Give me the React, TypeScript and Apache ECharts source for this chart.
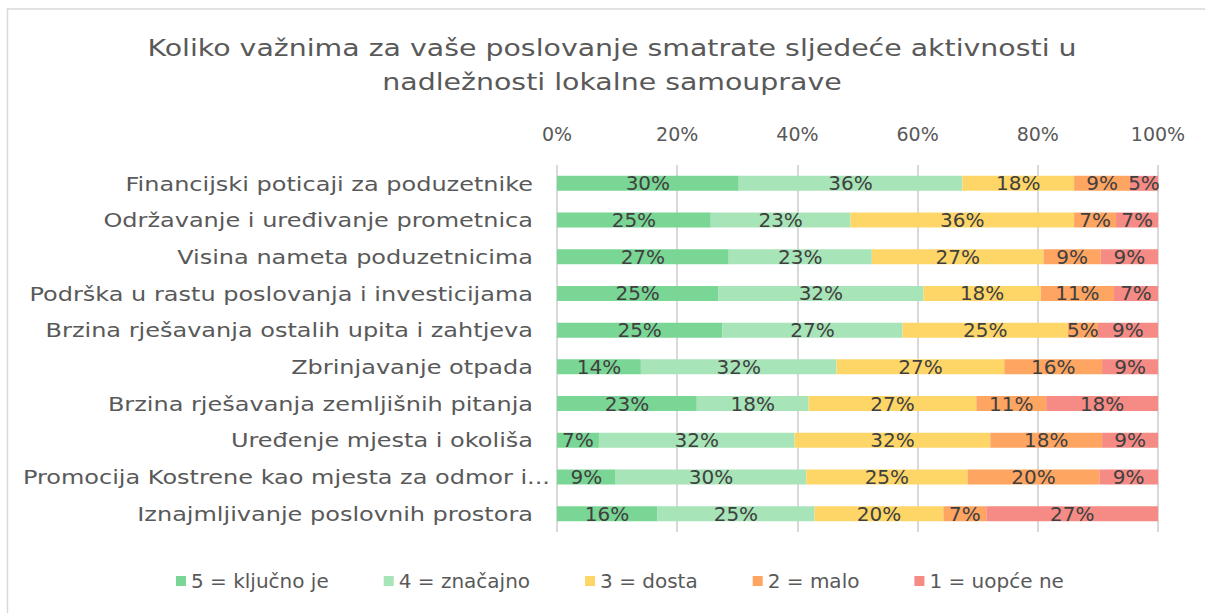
import React, { useEffect, useRef } from "react";
import * as echarts from "echarts";

const categories = [
  "Financijski poticaji za poduzetnike",
  "Održavanje i uređivanje prometnica",
  "Visina nameta poduzetnicima",
  "Podrška u rastu poslovanja i investicijama",
  "Brzina rješavanja ostalih upita i zahtjeva",
  "Zbrinjavanje otpada",
  "Brzina rješavanja zemljišnih pitanja",
  "Uređenje mjesta i okoliša",
  "Promocija Kostrene kao mjesta za odmor i...",
  "Iznajmljivanje poslovnih prostora",
];

const seriesNames = ["5 = ključno je", "4 = značajno", "3 = dosta", "2 = malo", "1 = uopće ne"];
const colors = ["#7AD695", "#A7E4B8", "#FED668", "#FFA562", "#F58B84"];

// shares (%) per category, as labelled (rounded in the labels)
const s5 = [29.55, 25.0, 27.27, 25.0, 25.0, 13.64, 22.73, 6.82, 9.09, 15.91];
const s4 = [36.36, 22.73, 22.73, 31.82, 27.27, 31.82, 18.18, 31.82, 29.55, 25.0];
const s3 = [18.18, 36.36, 27.27, 18.18, 25.0, 27.27, 27.27, 31.82, 25.0, 20.45];
const s2 = [9.09, 6.82, 9.09, 11.36, 4.55, 15.91, 11.36, 18.18, 20.45, 6.82];
const s1 = [4.55, 6.82, 9.09, 6.82, 9.09, 9.09, 18.18, 9.09, 9.09, 27.27];

const titleText = "Koliko važnima za vaše poslovanje smatrate sljedeće aktivnosti u\nnadležnosti lokalne samouprave";

const FONT = "'DejaVu Sans', sans-serif";

export default function App() {
  const ref = useRef<HTMLDivElement>(null);
  useEffect(() => {
    if (!ref.current) return;
    const chart = echarts.init(ref.current, undefined, { renderer: "svg" });
    const all = [s5, s4, s3, s2, s1];
    const sums = categories.map((_, i) => all.reduce((a, s) => a + s[i], 0));
    const series: any[] = all.map((arr, k) => ({
      name: seriesNames[k],
      type: "bar",
      stack: "total",
      barWidth: 15,
      itemStyle: { color: colors[k] },
      label: {
        show: true,
        position: "inside",
        color: "#404040",
        fontSize: 20,
        fontFamily: FONT,
        formatter: (p: any) => Math.round(arr[p.dataIndex]) + "%",
      },
      data: arr.map((v, i) => (v / sums[i]) * 100),
    }));
    series.push({
      type: "custom",
      name: "categoryLabels",
      silent: true,
      clip: false,
      z: 10,
      encode: { x: 0, y: 1 },
      data: categories.map((_, i) => [0, i]),
      renderItem: (params: any, api: any) => {
        const pt = api.coord([0, api.value(1)]);
        const name = categories[params.dataIndex];
        const shift = name.endsWith("...") ? 17 : 0;
        return {
          type: "text",
          x: pt[0] - 24 + shift,
          y: pt[1],
          scaleX: 1.2,
          style: {
            text: name,
            align: "right",
            verticalAlign: "middle",
            fill: "#595959",
            fontSize: 20,
            fontFamily: FONT,
          },
        };
      },
    });
    chart.setOption({
      animation: false,
      textStyle: { fontFamily: FONT },
      legend: {
        bottom: 17,
        left: 171,
        itemWidth: 10,
        itemHeight: 10,
        itemGap: 55,
        icon: "rect",
        textStyle: { fontSize: 20, color: "#595959", padding: [0, 0, 0, 0] },
        data: seriesNames,
      },
      grid: { left: 557, right: 47, top: 165, height: 367, containLabel: false },
      xAxis: {
        type: "value",
        position: "top",
        min: 0,
        max: 100,
        interval: 20,
        axisLine: { show: false },
        axisTick: { show: false },
        splitLine: { lineStyle: { color: "#D9D9D9", width: 2 } },
        axisLabel: { color: "#595959", fontSize: 19, margin: 22, formatter: (v: number) => v + "%" },
      },
      yAxis: {
        type: "category",
        inverse: true,
        data: categories,
        axisLine: { show: false },
        axisTick: { show: false },
        axisLabel: { show: false },
      },
      graphic: [
        {
          type: "rect",
          shape: { x: 7.5, y: 9, width: 1400, height: 800 },
          style: { fill: "none", stroke: "#D9D9D9", lineWidth: 1.5 },
          silent: true,
        },
        {
          type: "text",
          x: 612,
          y: 65,
          scaleX: 1.235,
          silent: true,
          style: {
            text: titleText,
            align: "center",
            verticalAlign: "middle",
            fill: "#595959",
            fontSize: 23,
            lineHeight: 34,
            fontFamily: FONT,
          },
        },
      ],
      series,
    });
    return () => chart.dispose();
  }, []);
  return <div ref={ref} style={{ position: "fixed", left: 0, top: 0, width: 1205, height: 613, background: "#fff" }} />;
}
